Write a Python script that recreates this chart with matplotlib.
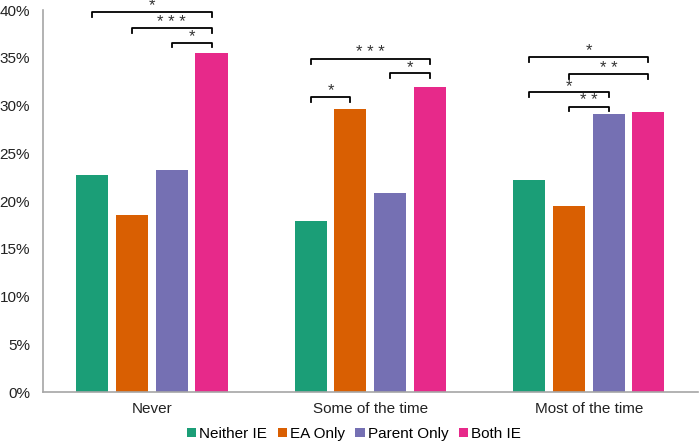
import numpy as np
import matplotlib.pyplot as plt

plt.rcParams['font.family'] = ['Liberation Sans', 'DejaVu Sans']

# data
categories = ['Never', 'Some of the time', 'Most of the time']
groups = ['Neither IE', 'EA Only', 'Parent Only', 'Both IE']
neither = [22.7, 17.9, 22.2]
ea_only = [18.5, 29.7, 19.5]
parent_only = [23.3, 20.8, 29.1]
both_ie = [35.5, 32.0, 29.3]
colors = ['#1b9e77', '#d95f02', '#7570b3', '#e7298a']

# significance brackets: (category, bar from, bar to, height %, label)
brackets = [
    (0, 0, 3, 39.8, '*'),
    (0, 1, 3, 38.1, '***'),
    (0, 2, 3, 36.6, '*'),
    (1, 0, 1, 30.9, '*'),
    (1, 0, 3, 34.9, '***'),
    (1, 2, 3, 33.4, '*'),
    (2, 0, 3, 35.1, '*'),
    (2, 1, 3, 33.3, '**'),
    (2, 0, 2, 31.4, '*'),
    (2, 1, 2, 29.9, '**'),
]

fig = plt.figure(figsize=(7, 4.44), dpi=100)
ax = fig.add_axes([0.061, 0.117, 0.936, 0.860])

x = np.arange(len(categories))
step = 0.182
width = 0.147
series = [neither, ea_only, parent_only, both_ie]
offsets = (np.arange(4) - 1.5) * step
for vals, off, c, lab in zip(series, offsets, colors, groups):
    ax.bar(x + off, vals, width, color=c, label=lab)

# brackets
for cat, a, b, h, lab in brackets:
    x1 = cat + offsets[a]
    x2 = cat + offsets[b]
    ax.plot([x1, x1, x2, x2], [h - 0.5, h, h, h - 0.5], color='black', lw=1.3)
    ax.text((x1 + x2) / 2, h - 0.15, ' '.join(lab), ha='center', va='bottom',
            fontsize=12, color='#333333')

ax.set_xlim(-0.5, 2.5)
ax.set_ylim(0, 40)
ax.set_yticks(np.arange(0, 41, 5))
ax.set_yticklabels([f'{v}%' for v in range(0, 41, 5)])
ax.set_xticks(x)
ax.set_xticklabels(categories)
ax.tick_params(length=0, labelsize=11, colors='#222222')
ax.tick_params(axis='y', pad=9)
ax.tick_params(axis='x', pad=7)
for s in ['top', 'right']:
    ax.spines[s].set_visible(False)
for s in ['left', 'bottom']:
    ax.spines[s].set_color('#a6a6a6')
    ax.spines[s].set_linewidth(1.2)

ax.legend(loc='upper center', bbox_to_anchor=(0.475, -0.075), ncol=4, frameon=False,
          fontsize=11, handlelength=0.6, handleheight=0.6, handletextpad=0.2,
          columnspacing=0.7, borderaxespad=0)

plt.savefig('out.png', dpi=100)
